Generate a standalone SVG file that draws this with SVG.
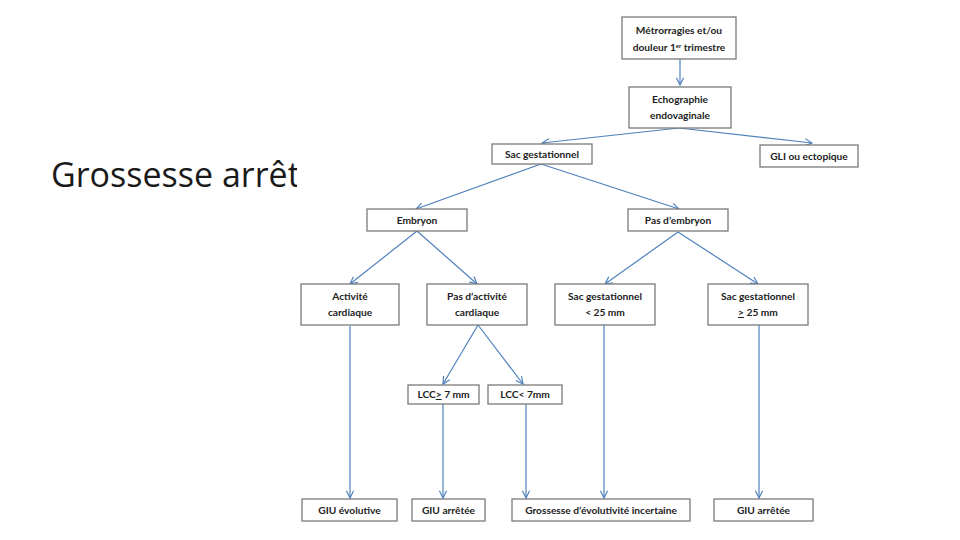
<svg xmlns="http://www.w3.org/2000/svg" width="960" height="540" viewBox="0 0 960 540">
<style>
.box{fill:#fff;stroke:#7a7a7a;stroke-width:1.3}
.t{font-family:Lato,"Open Sans","Liberation Sans",sans-serif;font-weight:bold;font-size:10.2px;fill:#222;text-anchor:middle}
.c{fill:none;stroke:#4f81bd;stroke-width:1.2;marker-end:url(#ah)}
.title{font-family:"Open Sans","Liberation Sans",sans-serif;font-weight:400;font-size:34px;fill:#1a1a1a}
</style>
<defs>
<marker id="ah" viewBox="0 0 10 10" refX="9" refY="5" markerWidth="9" markerHeight="9" markerUnits="userSpaceOnUse" orient="auto">
<path d="M1,1 L9,5 L1,9" fill="none" stroke="#4f81bd" stroke-width="1.3"/>
</marker>
<clipPath id="cut"><rect x="0" y="0" width="297" height="540"/></clipPath>
</defs>
<rect width="960" height="540" fill="#fff"/>
<text class="title" x="51" y="187" clip-path="url(#cut)">Grossesse arrêtée</text>

<g id="connectors">
<path class="c" d="M680,59 L680,85"/>
<path class="c" d="M679,128 L542,143"/>
<path class="c" d="M679,128 L812,143"/>
<path class="c" d="M541,164 L416,209"/>
<path class="c" d="M541,164 L679,209"/>
<path class="c" d="M417,231 L350,284"/>
<path class="c" d="M417,231 L477,284"/>
<path class="c" d="M678,232 L605,284"/>
<path class="c" d="M678,232 L758,284"/>
<path class="c" d="M478,325 L443,384"/>
<path class="c" d="M478,325 L523,384"/>
<path class="c" d="M350,326 L350,498"/>
<path class="c" d="M443,404 L443,498"/>
<path class="c" d="M526,404 L526,498"/>
<path class="c" d="M604,325 L604,498"/>
<path class="c" d="M759,325 L759,498"/>
</g>

<g id="n-metrorragies"><rect class="box" x="622" y="17" width="114" height="42"/>
<text class="t" x="679" y="34">Métrorragies et/ou</text>
<text class="t" x="679" y="51">douleur 1<tspan font-size="6" dy="-3.5">er</tspan><tspan dy="3.5"> trimestre</tspan></text></g>

<g id="n-echographie"><rect class="box" x="629" y="87" width="102" height="41"/>
<text class="t" x="680" y="103">Echographie</text>
<text class="t" x="680" y="119">endovaginale</text></g>

<g id="n-sac"><rect class="box" x="492" y="144" width="100" height="20"/>
<text class="t" x="542" y="157.5">Sac gestationnel</text></g>

<g id="n-gli"><rect class="box" x="760" y="145" width="98" height="22"/>
<text class="t" x="809" y="159.5">GLI ou ectopique</text></g>

<g id="n-embryon"><rect class="box" x="367" y="209" width="100" height="22"/>
<text class="t" x="417" y="223.5">Embryon</text></g>

<g id="n-pasembryon"><rect class="box" x="628" y="209" width="100" height="22"/>
<text class="t" x="678" y="223.5">Pas d’embryon</text></g>

<g id="n-activite"><rect class="box" x="301" y="284" width="98" height="41"/>
<text class="t" x="350" y="300">Activité</text>
<text class="t" x="350" y="316">cardiaque</text></g>

<g id="n-pasactivite"><rect class="box" x="427" y="284" width="100" height="41"/>
<text class="t" x="477" y="300">Pas d’activité</text>
<text class="t" x="477" y="316">cardiaque</text></g>

<g id="n-sac-inf"><rect class="box" x="555" y="284" width="100" height="41"/>
<text class="t" x="605" y="300">Sac gestationnel</text>
<text class="t" x="605" y="316">&lt; 25 mm</text></g>

<g id="n-sac-sup"><rect class="box" x="708" y="284" width="100" height="41"/>
<text class="t" x="758" y="300">Sac gestationnel</text>
<text class="t" x="758" y="316"><tspan text-decoration="underline">&gt;</tspan> 25 mm</text></g>

<g id="n-lcc-sup"><rect class="box" x="408" y="385" width="71" height="19"/>
<text class="t" x="443.5" y="398"><tspan>LCC</tspan><tspan text-decoration="underline">&gt;</tspan><tspan> 7 mm</tspan></text></g>

<g id="n-lcc-inf"><rect class="box" x="488" y="385" width="74" height="19"/>
<text class="t" x="525" y="398">LCC&lt; 7mm</text></g>

<g id="n-giu-evol"><rect class="box" x="302" y="499" width="95" height="22"/>
<text class="t" x="349.5" y="513.5">GIU évolutive</text></g>

<g id="n-giu-arr1"><rect class="box" x="412" y="499" width="73" height="22"/>
<text class="t" x="448.5" y="513.5">GIU arrêtée</text></g>

<g id="n-incertaine"><rect class="box" x="512" y="499" width="178" height="22"/>
<text class="t" x="601" y="513.5">Grossesse d’évolutivité incertaine</text></g>

<g id="n-giu-arr2"><rect class="box" x="714" y="499" width="99" height="22"/>
<text class="t" x="763.5" y="513.5">GIU arrêtée</text></g>
</svg>
